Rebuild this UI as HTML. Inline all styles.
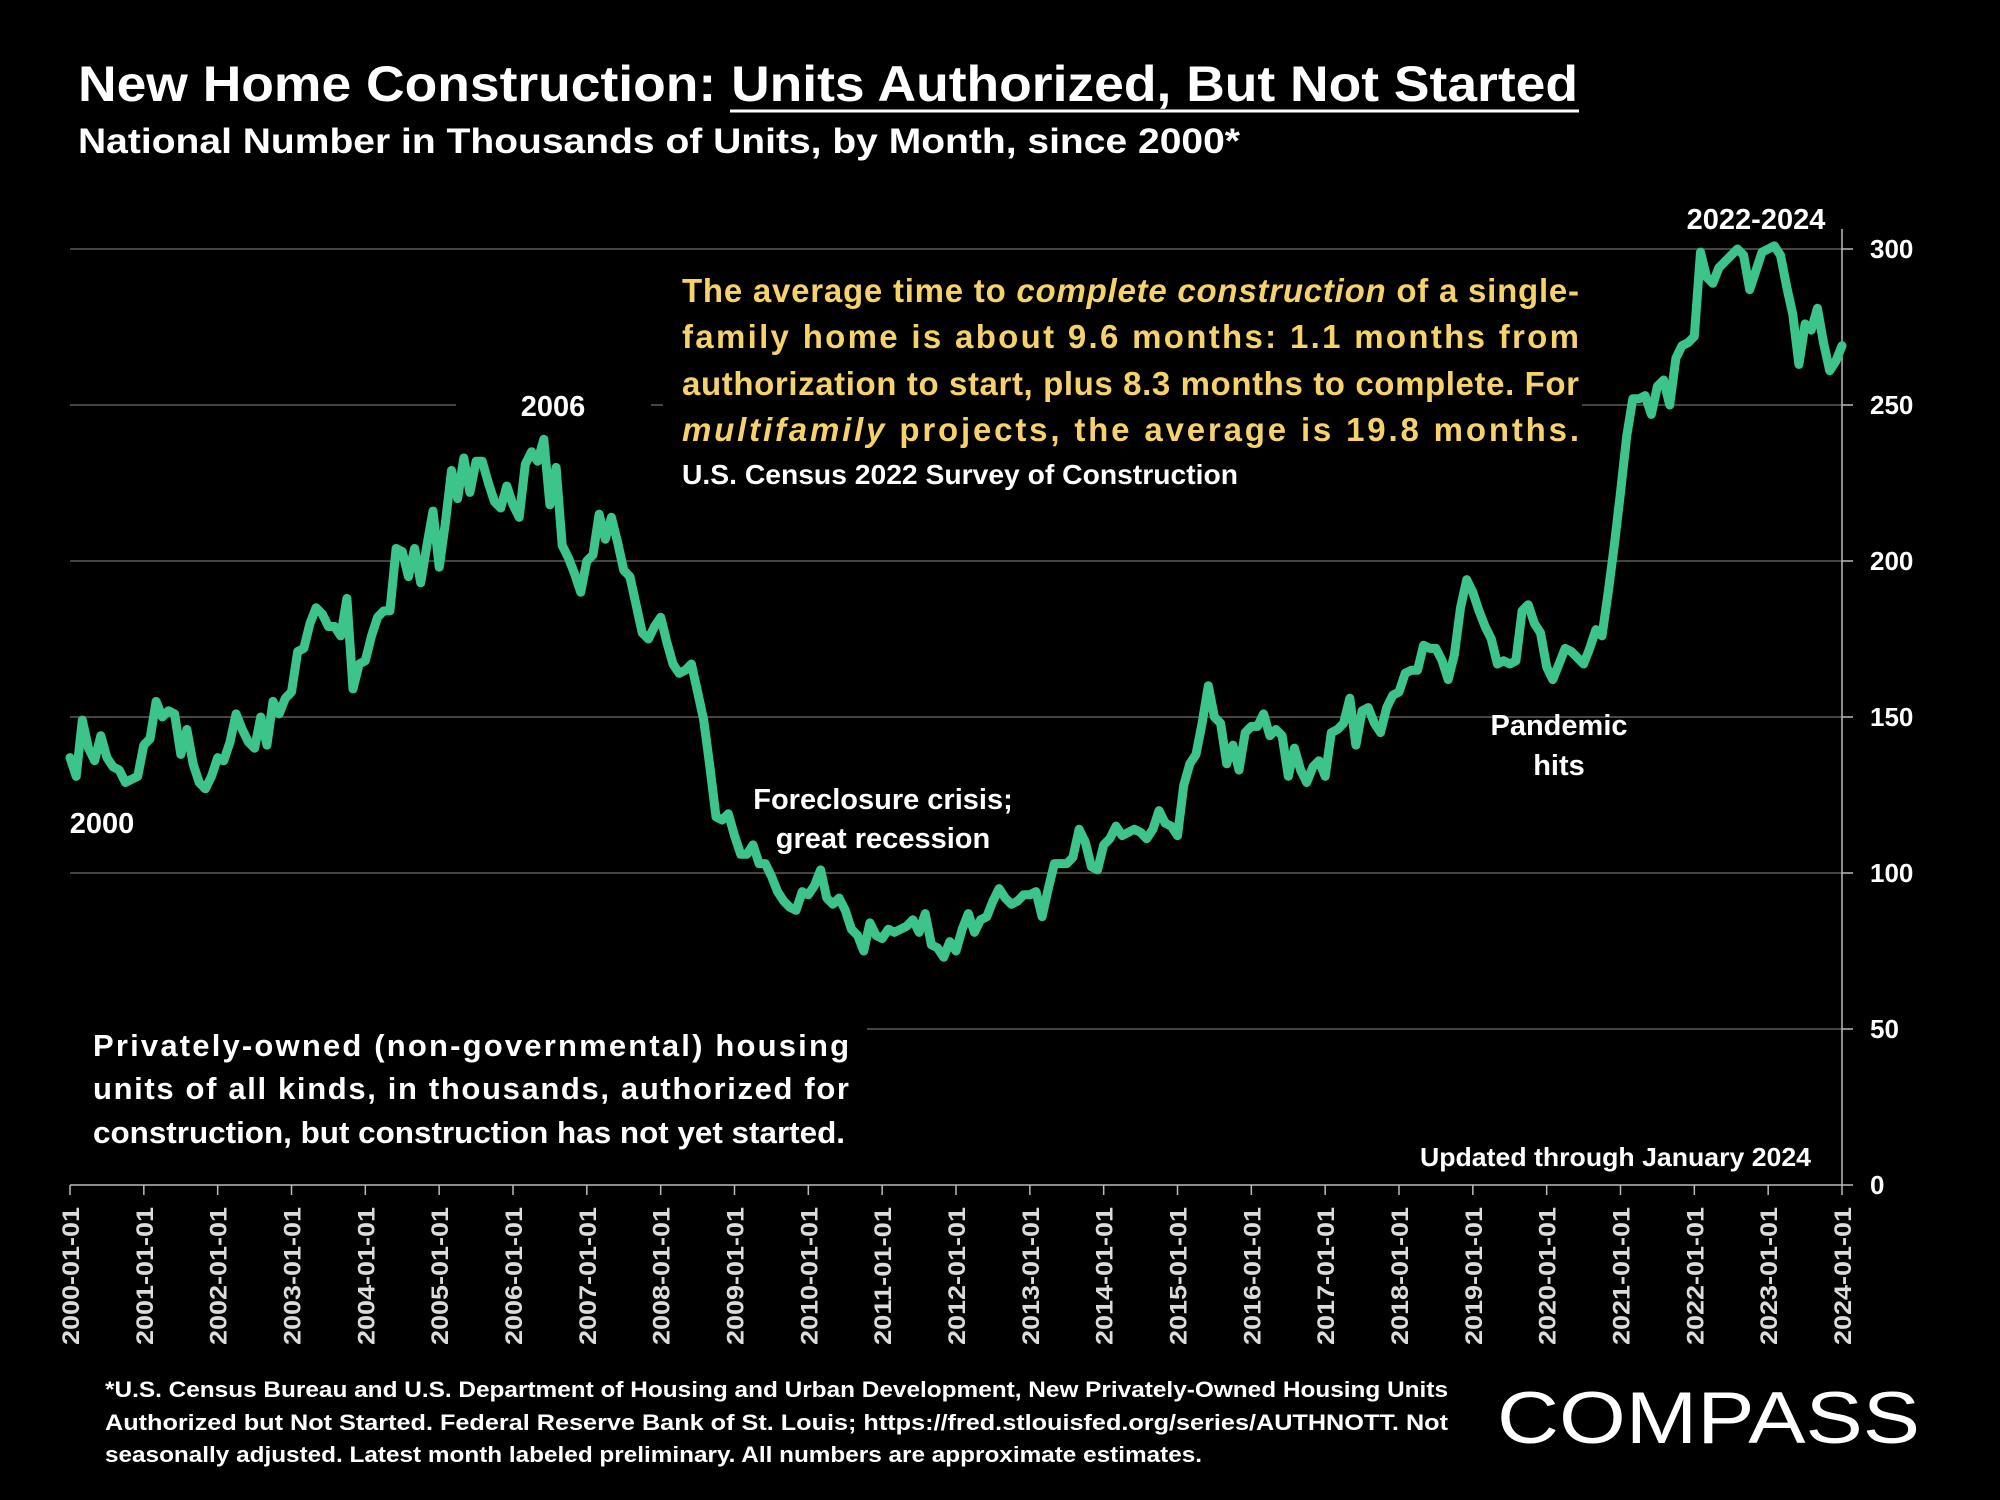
<!DOCTYPE html>
<html><head><meta charset="utf-8"><style>
html,body{margin:0;padding:0;background:#000;}
svg{display:block;font-family:"Liberation Sans",Arial,sans-serif;}
</style></head><body>
<svg id="chart" width="2000" height="1500" viewBox="0 0 2000 1500" xmlns="http://www.w3.org/2000/svg">
<rect width="2000" height="1500" fill="#000"/>
<g id="grid"></g>
<g id="axes"></g>
<path id="series" fill="none" stroke="#3dc48b" stroke-width="9" stroke-linejoin="round" stroke-linecap="round"/>

<text x="78" y="101" font-size="50" font-weight="bold" fill="#fff" textLength="1500" lengthAdjust="spacingAndGlyphs">New Home Construction: Units Authorized, But Not Started</text>
<line x1="730" y1="111" x2="1579" y2="111" stroke="#fff" stroke-width="3"/>
<text x="78" y="153" font-size="35" font-weight="bold" fill="#fff" textLength="1162" lengthAdjust="spacingAndGlyphs">National Number in Thousands of Units, by Month, since 2000*</text>

<g font-size="33" font-weight="bold" fill="#f6d26b">
<text x="682" y="302" textLength="897" lengthAdjust="spacing">The average time to <tspan font-style="italic">complete construction</tspan> of a single-</text>
<text x="682" y="348" textLength="897" lengthAdjust="spacing">family home is about 9.6 months: 1.1 months from</text>
<text x="682" y="395" textLength="897" lengthAdjust="spacing">authorization to start, plus 8.3 months to complete. For</text>
<text x="682" y="441" textLength="897" lengthAdjust="spacing"><tspan font-style="italic">multifamily</tspan> projects, the average is 19.8 months.</text>
</g>
<text x="682" y="484" font-size="28" font-weight="bold" fill="#fff" textLength="556" lengthAdjust="spacingAndGlyphs">U.S. Census 2022 Survey of Construction</text>

<g font-size="29" font-weight="bold" fill="#fff" text-anchor="middle">
<text x="102" y="833">2000</text>
<text x="553" y="416">2006</text>
<text x="883" y="809">Foreclosure crisis;</text>
<text x="883" y="848">great recession</text>
<text x="1559" y="735">Pandemic</text>
<text x="1559" y="775">hits</text>
<text x="1756" y="229">2022-2024</text>
</g>

<g font-size="31" font-weight="bold" fill="#fff">
<text x="93" y="1056" textLength="756" lengthAdjust="spacing">Privately-owned (non-governmental) housing</text>
<text x="93" y="1099" textLength="756" lengthAdjust="spacing">units of all kinds, in thousands, authorized for</text>
<text x="93" y="1143" textLength="752" lengthAdjust="spacingAndGlyphs">construction, but construction has not yet started.</text>
</g>
<text x="1420" y="1166" font-size="26" font-weight="bold" fill="#fff" textLength="391" lengthAdjust="spacingAndGlyphs">Updated through January 2024</text>

<g font-size="22" font-weight="bold" fill="#fff">
<text x="105" y="1397" textLength="1343" lengthAdjust="spacingAndGlyphs">*U.S. Census Bureau and U.S. Department of Housing and Urban Development, New Privately-Owned Housing Units</text>
<text x="105" y="1430" textLength="1343" lengthAdjust="spacingAndGlyphs">Authorized but Not Started. Federal Reserve Bank of St. Louis; https://fred.stlouisfed.org/series/AUTHNOTT. Not</text>
<text x="105" y="1462" textLength="1097" lengthAdjust="spacingAndGlyphs">seasonally adjusted. Latest month labeled preliminary. All numbers are approximate estimates.</text>
</g>
<text x="1497" y="1443" font-size="73" fill="#fff" textLength="423" lengthAdjust="spacingAndGlyphs">COMPASS</text>

<script>
const values = [137,131,149,140,136,144,137,134,133,129,130,131,
141,143,155,150,152,151,138,146,135,129,127,131,
137,136,142,151,146,142,140,150,141,155,151,156,
158,171,172,180,185,183,179,179,176,188,159,167,
168,176,182,184,184,204,203,195,204,193,205,216,
198,212,229,220,233,222,232,232,225,219,217,224,
218,214,231,235,232,239,218,230,205,201,196,190,
200,202,215,207,214,206,197,195,186,177,175,179,
182,174,167,164,165,167,158,149,134,118,117,119,
112,106,106,109,103,103,99,94,91,89,88,94,
93,96,101,92,90,92,88,82,80,75,84,80,
79,82,81,82,83,85,81,87,77,76,73,78,
75,82,87,81,85,86,91,95,92,90,91,93,
93,94,86,95,103,103,103,105,114,110,102,101,
109,111,115,112,113,114,113,111,114,120,116,115,
112,128,135,138,148,160,150,148,135,141,133,145,
147,147,151,144,146,144,131,140,133,129,134,136,
131,145,146,148,156,141,152,153,148,145,153,157,
158,164,165,165,173,172,172,168,162,170,185,194,
190,184,179,175,167,168,167,168,184,186,180,177,
166,162,167,172,171,169,167,172,178,176,190,205,
222,240,252,252,253,247,256,258,250,265,269,270,
272,299,291,289,294,296,298,300,298,287,293,299,
300,301,298,288,279,263,276,274,281,270,261,264,269];
const yTicks = [0,50,100,150,200,250,300];
const xYears = [2000,2001,2002,2003,2004,2005,2006,2007,2008,2009,2010,2011,2012,2013,2014,2015,2016,2017,2018,2019,2020,2021,2022,2023,2024];

const X0 = 70, X1 = 1842, Y0 = 1185, Y300 = 249;
function xScale(i){ return X0 + i * (X1 - X0) / 288; }
function yScale(v){ return Y0 - v * (Y0 - Y300) / 300; }
const NS = "http://www.w3.org/2000/svg";
const grid = document.getElementById('grid');
const axes = document.getElementById('axes');
function mk(tag, attrs, parent){ const e = document.createElementNS(NS, tag); for (const k in attrs) e.setAttribute(k, attrs[k]); parent.appendChild(e); return e; }

const gaps = {250: [[456,651],[663,1582]], 50: [[70,867]]};
yTicks.forEach(t => {
  const y = yScale(t);
  if (t > 0) {
    let segs = [[70, X1]];
    if (gaps[t]) {
      segs = []; let start = 70;
      gaps[t].forEach(g => { if (g[0] > start) segs.push([start, g[0]]); start = g[1]; });
      segs.push([start, X1]);
    }
    segs.forEach(s => {
      const ln = mk('line', {x1: s[0], x2: s[1], y1: y, y2: y, stroke: '#5a5a5a', 'stroke-width': 1.5}, grid);
      
      
    });
  }
  const tk = mk('line', {x1: X1, x2: X1 + 11, y1: y, y2: y, stroke: '#bbb', 'stroke-width': 1.5}, axes);
  
  
  const lb = mk('text', {x: 1870, y: y + 9, 'font-size': 26, 'font-weight': 'bold', fill: '#fff'}, axes);
  lb.textContent = t;
  
  
});
const ya = mk('line', {x1: X1, x2: X1, y1: 229, y2: Y0, stroke: '#bbb', 'stroke-width': 1.5}, axes);


const xa = mk('line', {x1: X0, x2: X1, y1: Y0, y2: Y0, stroke: '#bbb', 'stroke-width': 1.5}, axes);


xYears.forEach((yr, k) => {
  const x = xScale(k * 12);
  const tk = mk('line', {x1: x, x2: x, y1: Y0, y2: Y0 + 10, stroke: '#bbb', 'stroke-width': 1.5}, axes);
  
  
  const lb = mk('text', {x: 0, y: 0, 'font-size': 24, 'font-weight': 'bold', fill: '#dcdcdc', 'text-anchor': 'end', transform: 'translate(' + (x + 9) + ',1207) rotate(-90)', textLength: 138, lengthAdjust: 'spacingAndGlyphs'}, axes);
  lb.textContent = yr + '-01-01';
  
  
});

let d = '';
values.forEach((v, i) => { d += (i ? 'L' : 'M') + xScale(i).toFixed(1) + ',' + yScale(v).toFixed(1); });
document.getElementById('series').setAttribute('d', d);
</script>
</svg>
</body></html>
